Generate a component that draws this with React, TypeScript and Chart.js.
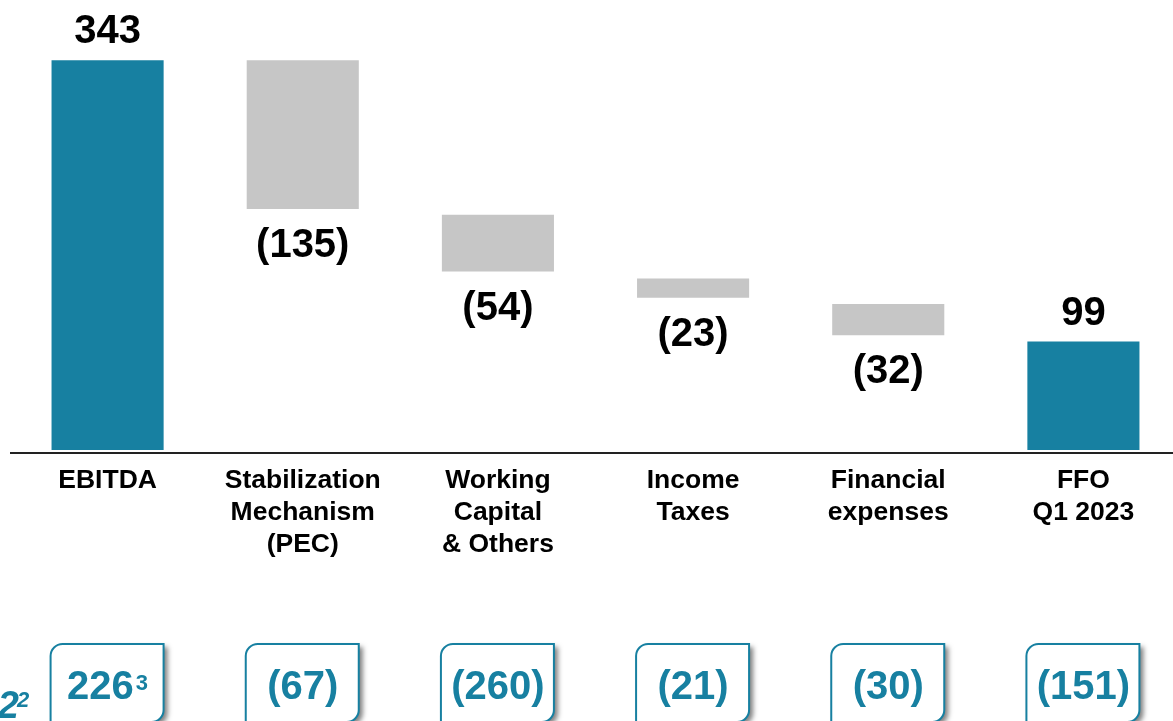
import React, { useEffect, useRef } from "react";
import { Chart, registerables } from "chart.js";

Chart.register(...registerables);

const categories: string[][] = [
  ["EBITDA"],
  ["Stabilization", "Mechanism", "(PEC)"],
  ["Working", "Capital", "& Others"],
  ["Income", "Taxes"],
  ["Financial", "expenses"],
  ["FFO", "Q1 2023"],
];
const barLow = [0, 212, 157, 134, 101, 0];
const barHigh = [343, 343, 207, 151, 128.5, 95.5];
const valueLabels = ["343", "(135)", "(54)", "(23)", "(32)", "99"];
const isTotal = [true, false, false, false, false, true];
const boxValues = ["226", "(67)", "(260)", "(21)", "(30)", "(151)"];
const boxSuperscripts = ["3", "", "", "", "", ""];
const leftCutText = "2";
const leftCutSup = "2";

const TEAL = "#1780A1";
const GRAY = "#C6C6C6";
const FONT = "'Liberation Sans', Arial, Helvetica, sans-serif";

const overlayPlugin = {
  id: "overlay",
  afterDatasetsDraw(chart: any) {
    const ctx = chart.ctx as CanvasRenderingContext2D;
    const area = chart.chartArea;
    const meta = chart.getDatasetMeta(0);
    ctx.save();
    // axis line
    ctx.fillStyle = "#222";
    ctx.fillRect(area.left, area.bottom + 2, chart.width - area.left, 2);

    // value labels
    ctx.fillStyle = "#000";
    ctx.font = `bold 40px ${FONT}`;
    ctx.textAlign = "center";
    ctx.textBaseline = "middle";
    meta.data.forEach((el: any, i: number) => {
      const top = Math.min(el.y, el.base);
      const bottom = Math.max(el.y, el.base);
      const y = isTotal[i] ? top - 28 : bottom + 37;
      ctx.fillText(valueLabels[i], el.x, y);
    });

    // bottom boxes
    meta.data.forEach((el: any, i: number) => {
      const cx = el.x;
      const x0 = cx - 57;
      const w = 113;
      const y0 = 644;
      const h = 78;
      ctx.save();
      ctx.shadowColor = "rgba(0,0,0,0.5)";
      ctx.shadowBlur = 5;
      ctx.shadowOffsetX = 4;
      ctx.shadowOffsetY = 3;
      ctx.beginPath();
      (ctx as any).roundRect(x0, y0, w, h, [12, 0, 12, 0]);
      ctx.fillStyle = "#fff";
      ctx.fill();
      ctx.restore();
      ctx.beginPath();
      (ctx as any).roundRect(x0, y0, w, h, [12, 0, 12, 0]);
      ctx.strokeStyle = TEAL;
      ctx.lineWidth = 2;
      ctx.stroke();

      ctx.fillStyle = TEAL;
      ctx.textBaseline = "alphabetic";
      ctx.textAlign = "left";
      ctx.font = `bold 40px ${FONT}`;
      const w1 = ctx.measureText(boxValues[i]).width;
      let w2 = 0;
      if (boxSuperscripts[i]) {
        ctx.font = `bold 22px ${FONT}`;
        w2 = ctx.measureText(boxSuperscripts[i]).width + 2;
      }
      const sx = cx - (w1 + w2) / 2;
      ctx.font = `bold 40px ${FONT}`;
      ctx.fillText(boxValues[i], sx, 699);
      if (boxSuperscripts[i]) {
        ctx.font = `bold 22px ${FONT}`;
        ctx.fillText(boxSuperscripts[i], sx + w1 + 2, 690);
      }
    });

    // cut-off text at left edge
    ctx.fillStyle = TEAL;
    ctx.textAlign = "right";
    ctx.textBaseline = "alphabetic";
    ctx.font = `italic bold 38px ${FONT}`;
    ctx.fillText(leftCutText, 19, 718);
    ctx.textAlign = "left";
    ctx.font = `italic bold 22px ${FONT}`;
    ctx.fillText(leftCutSup, 17, 707);
    ctx.restore();
  },
};

export default function App() {
  const ref = useRef<HTMLCanvasElement | null>(null);
  useEffect(() => {
    if (!ref.current) return;
    const chart = new Chart(ref.current, {
      type: "bar",
      data: {
        labels: categories as any,
        datasets: [
          {
            data: barLow.map((lo, i) => [lo, barHigh[i]]) as any,
            backgroundColor: isTotal.map((t) => (t ? TEAL : GRAY)),
            borderWidth: 0,
            categoryPercentage: 1,
            barPercentage: 112 / 195,
          },
        ],
      },
      options: {
        animation: false,
        responsive: false,
        layout: { padding: { left: 10, right: 0, top: 0, bottom: 0 } },
        plugins: {
          legend: { display: false },
          tooltip: { enabled: false },
        },
        scales: {
          x: {
            grid: { display: false, drawTicks: false },
            border: { display: false },
            afterFit: (scale: any) => {
              scale.height = 271;
            },
            ticks: {
              color: "#000",
              padding: 15,
              maxRotation: 0,
              autoSkip: false,
              font: { family: FONT, size: 26.5, weight: "bold", lineHeight: 32 / 26.5 },
            },
          },
          y: {
            display: false,
            min: 0,
            max: 396,
          },
        },
      },
      plugins: [overlayPlugin],
    });
    return () => chart.destroy();
  }, []);
  return (
    <div
      style={{
        position: "fixed",
        left: 0,
        top: 0,
        width: 1173,
        height: 721,
        overflow: "hidden",
        background: "#fff",
      }}
    >
      <canvas ref={ref} width={1181} height={721} style={{ width: 1181, height: 721, display: "block" }} />
    </div>
  );
}
